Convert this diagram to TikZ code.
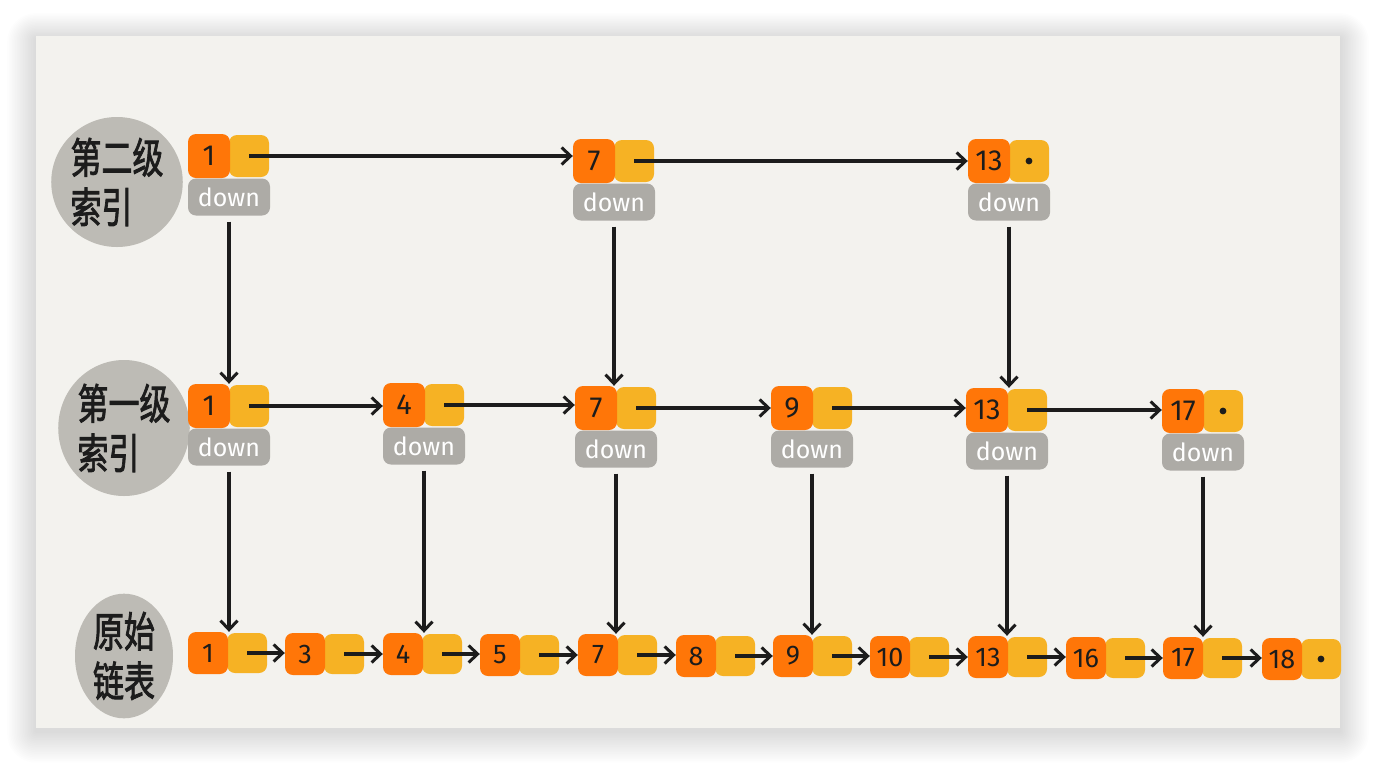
\documentclass[tikz,border=0pt]{standalone}
\usepackage{fontspec}
\setmainfont{Fira Sans}
\newfontfamily\cjk[FakeBold=2.2]{Noto Sans CJK SC}
\usetikzlibrary{arrows.meta,shapes.geometric}
\definecolor{panel}{HTML}{F3F2EE}
\definecolor{ora}{HTML}{FF7608}
\definecolor{yel}{HTML}{F6B224}
\definecolor{dgray}{HTML}{ADABA6}
\definecolor{lgray}{HTML}{BDBBB5}
\definecolor{ink}{HTML}{1C1C1C}
\tikzset{
  obox/.style={fill=ora, rounded corners=8pt, minimum width=42pt, minimum height=44pt, inner sep=0pt,
    font=\fontsize{29}{29}\selectfont, text=ink},
  ybox/.style={fill=yel, rounded corners=8pt, minimum width=40pt, minimum height=42pt, inner sep=0pt},
  bobox/.style={obox, minimum width=40pt, minimum height=42pt, font=\fontsize{27}{27}\selectfont},
  bybox/.style={ybox, minimum height=40pt},
  dbox/.style={fill=dgray, rounded corners=8pt, minimum width=82pt, minimum height=37pt, inner sep=0pt,
    text=white, font=\fontsize{25}{25}\selectfont},
  lab/.style={ellipse, fill=lgray, inner sep=0pt, text=ink, align=left,
    font=\cjk\fontsize{31}{31}\selectfont},
  conn/.style={draw=ink, line width=3.2pt, -{Straight Barb[length=9pt,width=17pt,line width=3pt]}},
}
\newcommand\ixn[4]{% name, x, y, digit
  \node[dbox] (#1-d) at ({#2+41},{#3+63}) {down};
  \node[ybox] (#1-y) at ({#2+61},{#3+22}) {};
  \node[obox] (#1-o) at ({#2+21},{#3+22}) {#4};
}
\newcommand\bnn[4]{% name, x, y, digit
  \node[bybox] (#1-y) at ({#2+59},{#3+21}) {};
  \node[bobox] (#1-o) at ({#2+20},{#3+21}) {#4};
}
\newcommand\tl[1]{\scalebox{1}[1.35]{#1}}
\begin{document}
\begin{tikzpicture}[x=1pt,y=-1pt]
\useasboundingbox (0,0) rectangle (1376,764);
\fill[white] (0,0) rectangle (1376,764);
% soft shadow
\foreach \i in {1,...,18}{
  \pgfmathsetmacro\d{1.6*\i}
  \fill[black, opacity=0.009, rounded corners=\d pt] ({36-\d},{36-0.9*\d+3}) rectangle ({1340+\d},{728+1.1*\d+3});
}
\fill[panel] (36,36) rectangle (1340,728);

% labels
\node[lab, minimum width=104pt, minimum height=130pt] (L2) at (117,182) {\tl{第二级}\\[10pt]\tl{索引}};
\node[lab, minimum width=104pt, minimum height=136pt] (L1) at (124,428) {\tl{第一级}\\[10pt]\tl{索引}};
\node[lab, minimum width=98pt, minimum height=118pt] (L0) at (124,656) {\tl{原始}\\[10pt]\tl{链表}};

% top level
\ixn{t1}{188}{134}{1}
\ixn{t7}{573}{139}{7}
\ixn{t13}{968}{139}{13}
\fill[ink] (t13-y.center) circle (3.4);

% middle level
\ixn{m1}{188}{384}{1}
\ixn{m4}{383}{383}{4}
\ixn{m7}{575}{386}{7}
\ixn{m9}{771}{386}{9}
\ixn{m13}{966}{388}{13}
\ixn{m17}{1162}{389}{17}
\fill[ink] (m17-y.center) circle (3.4);

% bottom level
\bnn{b1}{188}{632}{1}
\bnn{b3}{285}{633}{3}
\bnn{b4}{383}{633}{4}
\bnn{b5}{480}{634}{5}
\bnn{b7}{578}{634}{7}
\bnn{b8}{676}{635}{8}
\bnn{b9}{773}{635}{9}
\bnn{b10}{870}{636}{10}
\bnn{b13}{968}{636}{13}
\bnn{b16}{1066}{637}{16}
\bnn{b17}{1163}{637}{17}
\bnn{b18}{1262}{638}{18}
\fill[ink] (b18-y.center) circle (3.4);

% top arrows
\draw[conn] (t1-y.center) -- (t1-y.center -| t7-o.west);
\draw[conn] (t7-y.center) -- (t7-y.center -| t13-o.west);
% middle arrows
\foreach \a/\b in {1/4,4/7,7/9,9/13,13/17}{
  \draw[conn] (m\a-y.center) -- (m\a-y.center -| m\b-o.west);
}
% bottom arrows
\foreach \a/\b in {1/3,3/4,4/5,5/7,7/8,8/9,9/10,10/13,13/16,16/17,17/18}{
  \draw[conn] (b\a-y.center) -- (b\a-y.center -| b\b-o.west);
}
% down arrows
\foreach \n in {1,7,13}{
  \draw[conn, shorten <=6pt] (t\n-d.south) -- (t\n-d.south |- m\n-o.north);
}
\foreach \n in {1,4,7,9,13,17}{
  \draw[conn, shorten <=6pt] (m\n-d.south) -- (m\n-d.south |- b\n-o.north);
}
\end{tikzpicture}
\end{document}
